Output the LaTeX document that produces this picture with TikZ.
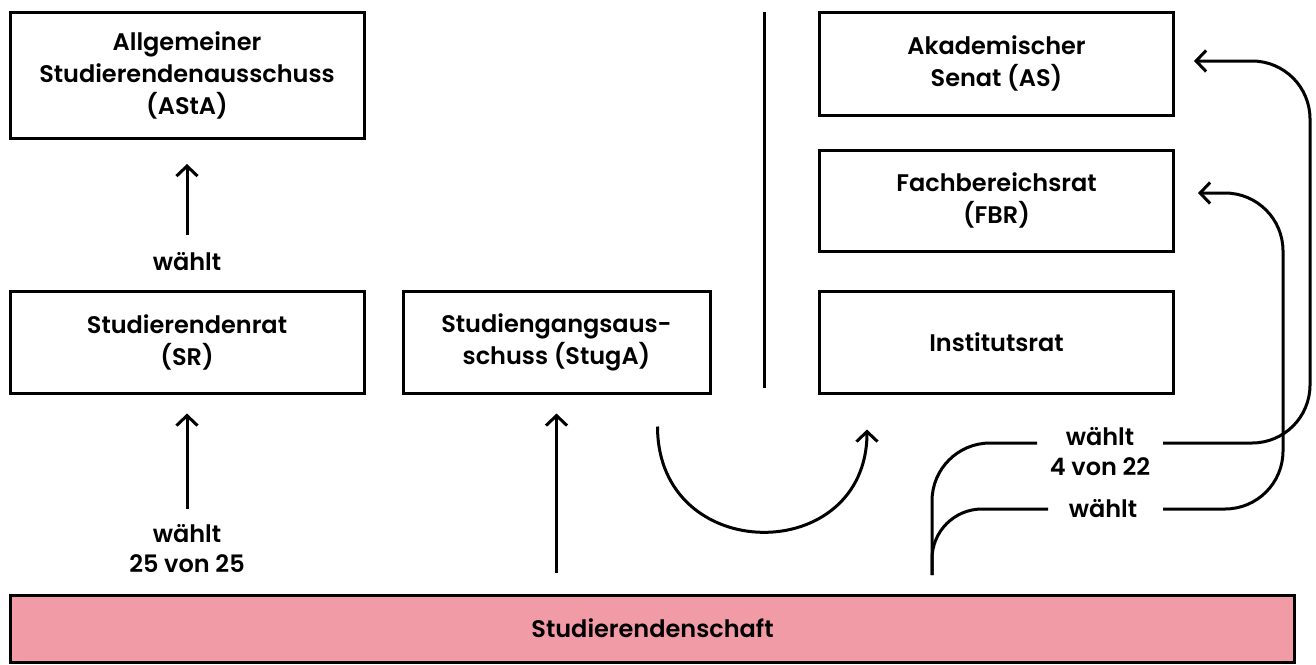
\documentclass[tikz,border=0pt]{standalone}
\usepackage{fontspec}
\setmainfont{Poppins}[BoldFont={Poppins SemiBold}]
\usetikzlibrary{arrows.meta,calc}
\definecolor{rosa}{HTML}{F19BA7}
\begin{document}
\begin{tikzpicture}[x=1pt,y=-1pt,
  lw/.style={line width=3pt},
  box/.style={draw,lw,minimum width=354pt,minimum height=102pt,align=center,
    font=\bfseries\fontsize{24}{32}\selectfont,inner sep=0pt},
  lbl/.style={align=center,font=\bfseries\fontsize{24}{30}\selectfont,inner sep=2pt},
  arr/.style={lw,-{Straight Barb[length=10pt,width=21pt,line width=3pt]}},
  con/.style={lw,rounded corners=58pt}]
\useasboundingbox (0,0) rectangle (1316,664);
% boxes
\node[box,minimum height=126pt] (asta) at (187,75.5) {Allgemeiner\\Studierendenausschuss\\(AStA)};
\node[box] (sr) at (187,342) {Studierendenrat\\(SR)};
\node[box,minimum width=307pt] (stuga) at (556.5,342) {Studiengangsaus-\\schuss (StugA)};
\node[box,minimum height=103pt] (as) at (996.5,63.5) {Akademischer\\Senat (AS)};
\node[box,minimum height=101pt] (fbr) at (996.5,200.5) {Fachbereichsrat\\(FBR)};
\node[box] (inst) at (996.5,342) {Institutsrat};
\node[box,fill=rosa,minimum width=1284pt,minimum height=67pt] (sch) at (652.5,628.5) {Studierendenschaft};
% labels
\node[lbl] (w1) at (187,262) {wählt};
\node[lbl] (w2) at (187,549) {wählt\\25 von 25};
\node[lbl] (w3) at (1100,452) {wählt\\4 von 22};
\node[lbl] (w4) at (1103,509) {wählt};
% separator
\draw[lw] (764,12) -- (764,388);
% straight arrows
\draw[arr] ([yshift=-95pt]asta.south) -- ([yshift=-24pt]asta.south);
\draw[arr] ([yshift=-114pt]sr.south) -- ([yshift=-19pt]sr.south);
\coordinate (su0) at (556.5,573);
\draw[arr] (su0) -- ([yshift=-19pt]stuga.south);
% U curve
\draw[arr] ([xshift=-54pt,yshift=-32pt]stuga.south east) .. controls +(0,140) and +(0,137) .. ([xshift=49pt,yshift=-35pt]inst.south west);
% right connectors
\coordinate (j) at (932,575);
\coordinate (l1) at (1037,443);
\coordinate (r1) at (1163,443);
\coordinate (l2) at (1048,509);
\coordinate (r2) at (1163,509);
\coordinate (o) at (1310,0);
\coordinate (i) at (1283,0);
\coordinate (tAS) at ([xshift=19pt,yshift=2.5pt]as.east);
\coordinate (tFB) at ([xshift=23pt,yshift=7.5pt]fbr.east);
\draw[con] (l1) -- (j |- l1) -- (j);
\draw[con,rounded corners=50pt] (l2) -- (j |- l2) -- (j);
\draw[arr,con] (r1) -- (o |- r1) -- (o |- tAS) -- (tAS);
\draw[arr,con] (r2) -- (i |- r2) -- (i |- tFB) -- (tFB);
\end{tikzpicture}
\end{document}
